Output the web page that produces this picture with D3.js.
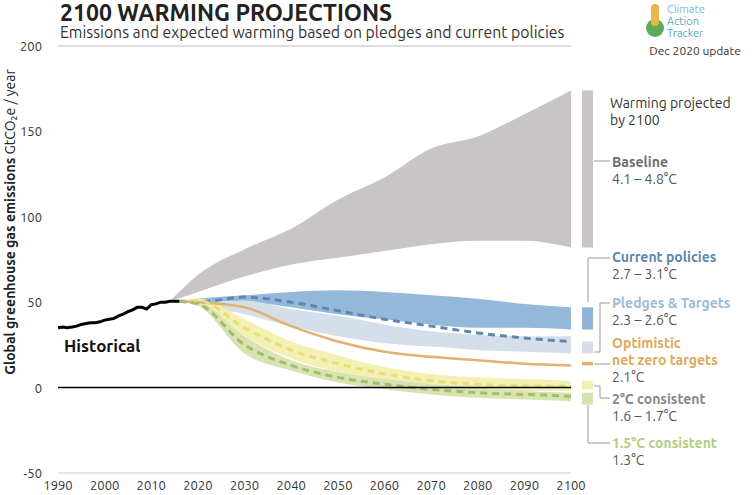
<!DOCTYPE html>
<html><head><meta charset="utf-8">
<script src="https://cdn.jsdelivr.net/npm/d3@7"></script>
<style>body{margin:0;background:#fff;font-family:Ubuntu,"Open Sans",sans-serif}</style>
</head><body><svg id="c" width="754" height="495"></svg>
<script>
var years = [2020, 2030, 2040, 2050, 2060, 2070, 2080, 2090, 2100];
var histYears = d3.range(1990, 2017);
var historical = [35, 35.5, 35, 35.5, 36, 37, 37.5, 38, 38, 38.5, 39.5, 40, 40.5, 42, 43, 44.5, 45.5, 47, 47, 46, 48.5, 49, 50, 50, 50.5, 50.5, 50.5];
var baselineHi = [66, 81, 93, 110, 123, 140, 147, 160, 174];
var baselineLo = [56, 65, 72, 76, 80, 84, 86, 86, 82];
var currentHi = [52, 54, 56, 57, 56, 54, 52, 49, 47];
var currentLo = [49, 50, 47, 43, 40, 37, 35, 35, 34];
var pledgesHi = [50, 51, 46, 42, 37, 33, 31, 30, 30];
var pledgesLo = [48, 43, 36, 30, 26, 24, 22, 21, 20];
var pledgesMid = [50, 53, 50, 45, 40, 36, 32, 29, 27];
var optimistic = [50, 47, 36, 27, 21, 18, 16, 14, 13];
var twoHi = [52, 40, 27, 19, 12, 8, 6, 5, 4];
var twoLo = [49, 30, 17, 9, 4, 1, -1, -2, -2];
var twoMid = [51, 35, 22, 14, 8, 4, 2, 1, 1];
var oneHi = [50, 30, 16, 9, 5, 2, 0, -2, -3];
var oneLo = [48, 20, 10, 3, -1, -4, -6, -7, -8];
var oneMid = [49, 25, 13, 6, 2, -1, -3, -4, -5];
var yTicks = [-50, 0, 50, 100, 150, 200];
var xTicks = d3.range(1990, 2101, 10);
// warming bars by 2100: [lo, hi]
var bars = [[82, 174, '#c9c5c6'], [34, 47, '#8fb4d6'], [20, 27, '#d5dfea'], [13, 15, '#e1b26f'], [-1, 4, '#f3efb1'], [-10, -3, '#d7e3b0']];

var svg = d3.select('#c');
var x = d3.scaleLinear().domain([1990, 2100]).range([58, 571]);
var y = d3.scaleLinear().domain([-50, 200]).range([473, 46]);

function band(hi, lo, fill, start) {
    var xs = [start].concat(years), h = [50.5].concat(hi), l = [50.5].concat(lo);
    var data = xs.map(function (d, i) { return {x: d, hi: h[i], lo: l[i]}; });
    svg.append('path').datum(data).attr('fill', fill)
        .attr('d', d3.area().curve(d3.curveMonotoneX).x(function (d) { return x(d.x); })
            .y0(function (d) { return y(d.lo); }).y1(function (d) { return y(d.hi); }));
}
function line(vals, stroke, width, dash) {
    var xs = [2016].concat(years), v = [50.5].concat(vals);
    svg.append('path').datum(xs.map(function (d, i) { return [d, v[i]]; }))
        .attr('fill', 'none').attr('stroke', stroke).attr('stroke-width', width)
        .attr('stroke-dasharray', dash || null)
        .attr('d', d3.line().curve(d3.curveMonotoneX).x(function (d) { return x(d[0]); }).y(function (d) { return y(d[1]); }));
}

svg.append('line').attr('x1', x(1990)).attr('x2', x(2100)).attr('y1', y(200)).attr('y2', y(200)).attr('stroke', '#ddd').attr('stroke-width', 2);
svg.append('line').attr('x1', x(1990)).attr('x2', x(2100)).attr('y1', y(-50)).attr('y2', y(-50)).attr('stroke', '#ccc');

band(baselineHi, baselineLo, '#c9c5c6', 2014);
band(currentHi, currentLo, '#93b8d9', 2016);
band(pledgesHi, pledgesLo, '#d5dfea', 2016);
band(twoHi, twoLo, '#f4f0b4', 2016);
band(oneHi, oneLo, '#d7e3b0', 2016);
line(optimistic, '#e1b26f', 2.5);
line(pledgesMid, '#5f86b2', 3, '7,5');
line(twoMid, '#e6df7a', 3, '7,5');
line(oneMid, '#a3bd6c', 3, '7,5');

svg.append('line').attr('x1', x(1990)).attr('x2', x(2100)).attr('y1', y(0)).attr('y2', y(0)).attr('stroke', '#000').attr('stroke-width', 1.5);
svg.append('path').datum(histYears.map(function (d, i) { return [d, historical[i]]; }))
    .attr('fill', 'none').attr('stroke', '#000').attr('stroke-width', 3)
    .attr('d', d3.line().x(function (d) { return x(d[0]); }).y(function (d) { return y(d[1]); }));

svg.append('g').selectAll('text').data(yTicks).join('text')
    .attr('x', 42).attr('y', function (d) { return y(d) + 5; }).attr('text-anchor', 'end')
    .attr('font-size', 13).attr('fill', '#333').text(function (d) { return d; });
svg.append('g').selectAll('text').data(xTicks).join('text')
    .attr('x', function (d) { return x(d); }).attr('y', 490).attr('text-anchor', 'middle')
    .attr('font-size', 13).attr('fill', '#333').text(function (d) { return d; });

svg.append('text').attr('transform', 'translate(15,222) rotate(-90)').attr('text-anchor', 'middle')
    .attr('font-size', 14).attr('fill', '#222')
    .html('<tspan font-weight="bold">Global greenhouse gas emissions</tspan>  GtCO₂e / year');

svg.append('text').attr('x', 64).attr('y', 352).attr('font-size', 17).attr('font-weight', 'bold').attr('fill', '#111').text('Historical');

svg.append('text').attr('x', 60).attr('y', 21).attr('font-size', 23).attr('font-weight', 'bold').attr('fill', '#222').text('2100 WARMING PROJECTIONS');
svg.append('text').attr('x', 60).attr('y', 38).attr('font-size', 15.8).attr('fill', '#333').text('Emissions and expected warming based on pledges and current policies');
svg.append('text').attr('x', 695).attr('y', 55).attr('text-anchor', 'middle').attr('font-size', 12).attr('fill', '#333').text('Dec 2020 update');
svg.append('circle').attr('cx', 655).attr('cy', 28).attr('r', 9).attr('fill', '#5dab5a');
svg.append('rect').attr('x', 651).attr('y', 4).attr('width', 8).attr('height', 22).attr('rx', 4).attr('fill', '#e8b64a');
['Climate', 'Action', 'Tracker'].forEach(function (t, i) {
    svg.append('text').attr('x', 667).attr('y', 13 + i * 12).attr('font-size', 11)
        .attr('fill', i ? '#5ba0c8' : '#7cbad8').text(t);
});

svg.selectAll('rect.bar').data(bars).join('rect').attr('class', 'bar')
    .attr('x', 582).attr('width', 11)
    .attr('y', function (d) { return y(d[1]); })
    .attr('height', function (d) { return y(d[0]) - y(d[1]); })
    .attr('fill', function (d) { return d[2]; });

var labels = [
    ['Warming projected', 'by 2100', 610, 108, '#333', false],
    ['Baseline', '4.1 – 4.8°C', 612, 167, '#6d6d6d', true],
    ['Current policies', '2.7 – 3.1°C', 612, 262, '#5b87b0', true],
    ['Pledges & Targets', '2.3 – 2.6°C', 612, 308, '#9ebbd8', true],
    ['Optimistic', 'net zero targets', 612, 348, '#e0a85a', true],
    ['2°C consistent', '1.6 – 1.7°C', 612, 404, '#888', true],
    ['1.5°C consistent', '1.3°C', 612, 448, '#b5cc7e', true]
];
labels.forEach(function (l) {
    var t = svg.append('text').attr('x', l[2]).attr('y', l[3]).attr('font-size', 14).attr('fill', l[4]);
    t.append('tspan').attr('font-weight', l[5] ? 'bold' : null).text(l[0]);
    t.append('tspan').attr('x', l[2]).attr('dy', 17).attr('fill', l[5] && l[0] !== 'Optimistic' ? '#555' : l[4])
        .attr('font-weight', l[0] === 'Optimistic' ? 'bold' : null).text(l[1]);
});
svg.append('text').attr('x', 612).attr('y', 382).attr('font-size', 14).attr('fill', '#555').text('2.1°C');

var lc = '#999';
var conn = [
    [[594, 161], [610, 161]],
    [[588, 302], [588, 258], [610, 258]],
    [[594, 352], [600, 352], [600, 303], [610, 303]],
    [[594, 364], [610, 364]],
    [[594, 386], [600, 386], [600, 398], [610, 398]],
    [[588, 405], [588, 443], [610, 443]]
];
conn.forEach(function (p) {
    svg.append('path').attr('fill', 'none').attr('stroke', lc).attr('d', d3.line()(p));
});
</script></body></html>
